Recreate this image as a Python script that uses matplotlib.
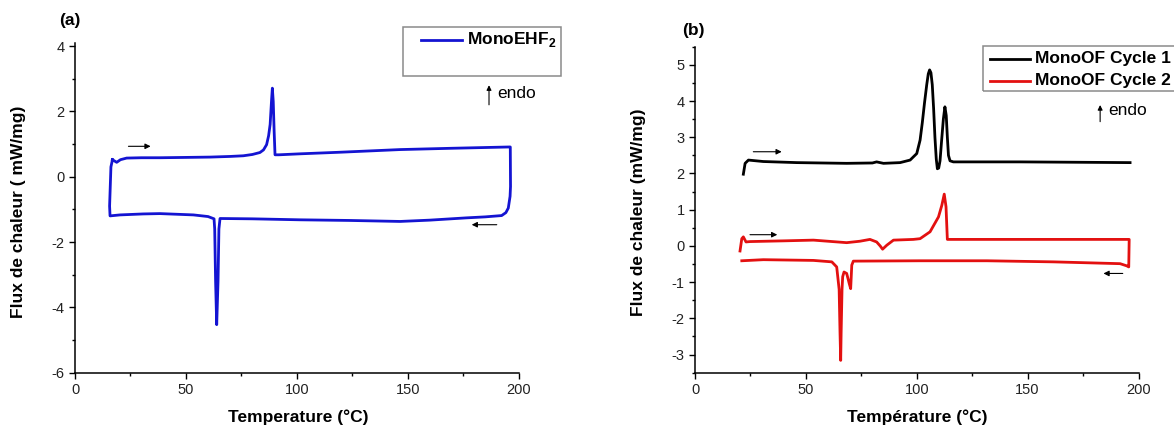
import matplotlib
matplotlib.use('Agg')
from matplotlib import pyplot as plt
from matplotlib.lines import Line2D
from matplotlib.patches import Rectangle
from matplotlib.ticker import MultipleLocator

plt.rcParams['font.family'] = ['Liberation Sans', 'DejaVu Sans']
plt.rcParams['mathtext.fontset'] = 'custom'
plt.rcParams['mathtext.rm'] = 'Liberation Sans'
plt.rcParams['mathtext.bf'] = 'Liberation Sans:bold'
plt.rcParams['axes.unicode_minus'] = False

# (a) MonoEHF2 : heating run then cooling run (closed loop)
a_heat_temp = [16.9, 18.8, 20.5, 23.3, 30, 38.3, 50, 60.9, 70, 75.9, 80, 83.4, 85, 86.4,
               87.3, 88, 88.6, 89, 89.4, 89.8, 90.2, 92, 101.5, 120, 146.6, 170, 196.1]
a_heat_flux = [0.52, 0.44, 0.52, 0.57, 0.58, 0.58, 0.59, 0.6, 0.62, 0.64, 0.68, 0.74, 0.82, 0.98,
               1.25, 1.6, 2.3, 2.71, 2.3, 1.4, 0.67, 0.67, 0.70, 0.75, 0.83, 0.87, 0.91]
a_cool_temp = [196.3, 196.4, 196.2, 195.4, 194.3, 192.4, 185, 176.6, 160, 146.6, 124.1, 101.5,
               80, 65.4, 64.9, 64.5, 63.9, 63.4, 63.0, 62.7, 60, 53.4, 38.3, 30.8, 20.3,
               15.8, 15.6, 16.2, 16.9]
a_cool_flux = [0.91, -0.3, -0.6, -0.96, -1.1, -1.19, -1.23, -1.26, -1.33, -1.37, -1.34, -1.32,
               -1.29, -1.28, -1.6, -3.2, -4.53, -3.2, -1.6, -1.29, -1.22, -1.17, -1.13, -1.14,
               -1.17, -1.2, -0.9, 0.3, 0.52]

# (b) MonoOF cycle 1 (heating only)
b1_temp = [21.8, 22.6, 24.1, 30.8, 45.9, 68.4, 80, 81.9, 85, 92.5, 97, 100, 101.5, 102.5,
           103.5, 104.5, 105.2, 105.8, 106.4, 107.0, 107.6, 108.2, 108.8, 109.3, 109.9,
           110.5, 111.2, 112.0, 112.7, 113.3, 113.8, 114.3, 115, 116.5, 146.6, 196.2]
b1_flux = [1.98, 2.28, 2.37, 2.33, 2.30, 2.28, 2.29, 2.32, 2.28, 2.30, 2.37, 2.55, 2.92, 3.4,
           3.95, 4.45, 4.75, 4.86, 4.78, 4.45, 3.8, 3.0, 2.4, 2.13, 2.15,
           2.35, 2.9, 3.5, 3.84, 3.6, 3.0, 2.5, 2.35, 2.32, 2.32, 2.30]

# (b) MonoOF cycle 2 : heating then cooling
b2_heat_temp = [20.3, 21.1, 21.8, 23.0, 24.8, 40, 53.4, 68.4, 74.4, 78.9, 81.9, 83.5, 84.6,
                86.5, 89.5, 98.5, 101.5, 106, 109.8, 111.3, 112.4, 113.2, 113.8, 115, 161.6, 195.8]
b2_heat_flux = [-0.14, 0.2, 0.25, 0.11, 0.12, 0.14, 0.16, 0.09, 0.13, 0.18, 0.11, 0.0, -0.09,
                0.02, 0.16, 0.18, 0.2, 0.39, 0.80, 1.12, 1.43, 1.08, 0.18, 0.18, 0.18, 0.18]
b2_cool_temp = [195.8, 195.6, 194.7, 191.7, 161.6, 131.6, 101.5, 71.4, 70.7, 70.2, 69.6, 69.2,
                68.4, 67.2, 66.6, 66.3, 65.9, 65.7, 65.4, 65.0, 63.9, 61.7, 53.4, 30.8, 21.1]
b2_cool_flux = [0.18, -0.58, -0.55, -0.49, -0.44, -0.41, -0.41, -0.42, -0.53, -1.18, -1.05, -0.95,
                -0.76, -0.72, -0.85, -1.2, -2.4, -3.16, -2.4, -1.2, -0.58, -0.44, -0.40, -0.38, -0.41]

W, H = 1174, 428
BLUE = '#1414d2'
RED = '#e31010'


def px(x, y):
    """pixel position (from top-left) -> figure fraction"""
    return x / W, 1 - y / H


def style_axes(ax, ymaj, ymin):
    for side in ('top', 'right'):
        ax.spines[side].set_visible(False)
    for side in ('left', 'bottom'):
        ax.spines[side].set_linewidth(1.1)
    ax.xaxis.set_major_locator(MultipleLocator(50))
    ax.xaxis.set_minor_locator(MultipleLocator(25))
    ax.yaxis.set_major_locator(MultipleLocator(ymaj))
    ax.yaxis.set_minor_locator(MultipleLocator(ymin))
    ax.tick_params(which='major', direction='out', length=4, width=1.0,
                   labelsize=10.5, labelcolor='#222222')
    ax.tick_params(which='minor', direction='out', length=2.5, width=1.0)
    ax.set_xlim(0, 200)


def arrow(ax, x0, x1, y):
    ax.annotate('', xy=(x1, y), xytext=(x0, y),
                arrowprops=dict(arrowstyle='-|>', color='k', lw=0.8, mutation_scale=8,
                                shrinkA=0, shrinkB=0))


def endo(ax, x, y0, y1, tx, ty):
    ax.annotate('', xy=(x, y1), xytext=(x, y0), annotation_clip=False,
                arrowprops=dict(arrowstyle='-|>', color='k', lw=0.8, mutation_scale=7,
                                shrinkA=0, shrinkB=0))
    ax.text(tx, ty, 'endo', fontsize=12.5, ha='left', va='center', clip_on=False)


def legend_box(fig, box, entries):
    x0, y0, x1, y1 = box
    fx0, fy1 = px(x0, y1)
    fx1, fy0 = px(x1, y0)
    fig.add_artist(Rectangle((fx0, fy1), fx1 - fx0, fy0 - fy1, transform=fig.transFigure,
                             fill=False, edgecolor='#8a8a8a', lw=1.1))
    for lx0, lx1, ly, color, label in entries:
        a, b = px(lx0, ly)
        c, _ = px(lx1, ly)
        fig.add_artist(Line2D([a, c], [b, b], transform=fig.transFigure, color=color, lw=2))
        tx, ty = px(lx1 + 5, ly)
        fig.text(tx, ty, label, fontsize=12.5, fontweight='bold', ha='left', va='center')


fig = plt.figure(figsize=(W / 100, H / 100), dpi=100)

# panel (a)
ax1 = fig.add_axes([75 / W, 1 - 372.7 / H, 443.5 / W, 329.3 / H])
ax1.plot(a_heat_temp + a_cool_temp, a_heat_flux + a_cool_flux, color=BLUE, lw=2)
style_axes(ax1, 2, 1)
ax1.set_ylim(-6, 4.08)
arrow(ax1, 24.1, 34.1, 0.93)
arrow(ax1, 190.2, 178.9, -1.47)
endo(ax1, 186.7, 2.2, 2.8, 190.2, 2.56)
legend_box(fig, (403, 27, 561, 76),
           [(421, 462, 39.5, BLUE, r'MonoEHF$_\mathbf{2}$')])

# panel (b)
ax2 = fig.add_axes([695 / W, 1 - 372.7 / H, 443.5 / W, 326 / H])
ax2.plot(b1_temp, b1_flux, color='k', lw=2)
ax2.plot(b2_heat_temp + b2_cool_temp, b2_heat_flux + b2_cool_flux, color=RED, lw=2)
style_axes(ax2, 1, 0.5)
ax2.set_ylim(-3.5, 5.5)
arrow(ax2, 26.3, 39.1, 2.6)
arrow(ax2, 24.8, 37.1, 0.31)
arrow(ax2, 192.9, 184.2, -0.76)
endo(ax2, 182.7, 3.43, 3.89, 186.4, 3.75)
legend_box(fig, (982.5, 46, 1180, 90.7),
           [(990, 1030, 59, 'k', 'MonoOF Cycle 1'),
            (990, 1030, 80.7, RED, 'MonoOF Cycle 2')])

# labels
for x, y, s in [(70, 21, '(a)'), (693, 30, '(b)')]:
    fig.text(*px(x, y), s, fontsize=12.5, fontweight='bold', ha='center', va='center')
fig.text(*px(298, 417), 'Temperature (°C)', fontsize=12.5, fontweight='bold',
         ha='center', va='center')
fig.text(*px(917, 417), 'Température (°C)', fontsize=12.5, fontweight='bold',
         ha='center', va='center')
fig.text(*px(19, 212), 'Flux de chaleur ( mW/mg)', fontsize=12.5, fontweight='bold',
         ha='center', va='center', rotation=90)
fig.text(*px(638, 212), 'Flux de chaleur (mW/mg)', fontsize=12.5, fontweight='bold',
         ha='center', va='center', rotation=90)

fig.savefig('out.png', dpi=100)
